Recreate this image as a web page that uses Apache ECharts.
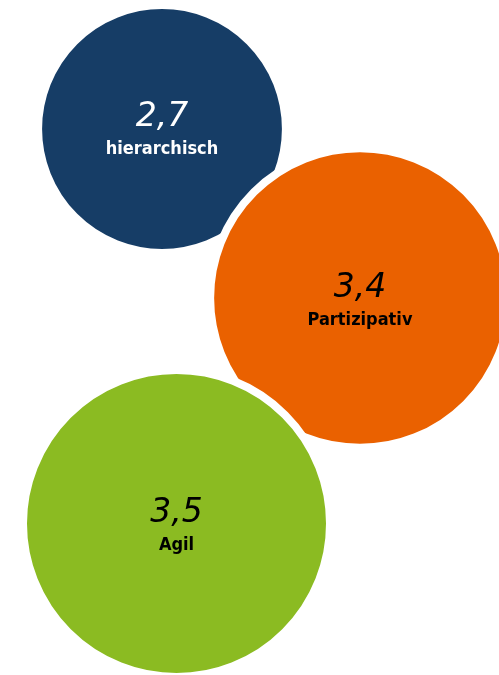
<!DOCTYPE html>
<html>
<head>
<meta charset="utf-8">
<style>
  html, body { margin: 0; padding: 0; background: #ffffff; }
  #chart { width: 499px; height: 675px; }
</style>
<script src="https://cdn.jsdelivr.net/npm/echarts@6/dist/echarts.min.js"></script>
</head>
<body>
<div id="chart"></div>
<script>
// Leadership styles and their mean scores
const styles = ['hierarchisch', 'Partizipativ', 'Agil'];
const scores = [2.7, 3.4, 3.5];
const scoreLabels = ['2,7', '3,4', '3,5'];

// Bubble placement on a hidden 499 x 675 layout plane
const bubbleX = [162, 360, 176.5];
const bubbleY = [129, 298, 523.5];

const fills = ['#163d66', '#ea6100', '#8bbb22'];
const textColors = ['#ffffff', '#000000', '#000000'];
const labelShift = [-2, 0, 0];

// Radius grows with the score (slightly compressed power scale)
const maxScore = Math.max(...scores);
const maxRadius = 149.5;
const gap = 4; // white ring separating overlapping bubbles
function radiusOf(v) { return maxRadius * Math.pow(v / maxScore, 0.85); }

const data = styles.map((name, i) => ({
  name: name,
  value: [bubbleX[i], bubbleY[i], scores[i]],
  symbolSize: 2 * radiusOf(scores[i]) + 2 * gap,
  itemStyle: {
    color: fills[i],
    opacity: 1,
    borderColor: '#ffffff',
    borderWidth: 2 * gap
  },
  label: {
    show: true,
    position: 'inside',
    offset: [0, labelShift[i]],
    formatter: '{v|' + scoreLabels[i] + '}\n{n|' + name + '}',
    rich: {
      v: {
        fontFamily: 'DejaVu Sans',
        fontStyle: 'italic',
        fontWeight: 'normal',
        fontSize: 33,
        lineHeight: 44,
        color: textColors[i],
        align: 'center'
      },
      n: {
        fontFamily: '"DejaVu Sans Condensed", "DejaVu Sans"',
        fontWeight: 'bold',
        fontSize: 18,
        lineHeight: 20,
        color: textColors[i],
        align: 'center'
      }
    }
  }
}));

const chart = echarts.init(document.getElementById('chart'), null, { renderer: 'canvas' });
chart.setOption({
  animation: false,
  backgroundColor: '#ffffff',
  grid: { left: 0, right: 0, top: 0, bottom: 0 },
  xAxis: { type: 'value', min: 0, max: 499, show: false },
  yAxis: { type: 'value', min: 0, max: 675, inverse: true, show: false },
  series: [{
    type: 'scatter',
    symbol: 'circle',
    clip: false,
    itemStyle: { opacity: 1 },
    data: data,
    emphasis: { disabled: true },
    silent: true
  }]
});
</script>
</body>
</html>
